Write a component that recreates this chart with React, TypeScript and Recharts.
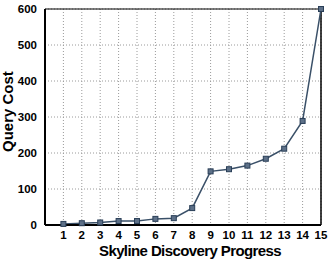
import { LineChart, Line, XAxis, YAxis, CartesianGrid, ReferenceLine } from "recharts";

// skyline discovery step vs query cost
const steps = [1, 2, 3, 4, 5, 6, 7, 8, 9, 10, 11, 12, 13, 14, 15];
const queryCost = [3, 5, 7, 11, 11, 17, 19, 47, 149, 155, 165, 184, 212, 289, 600];
const yTicks = [0, 100, 200, 300, 400, 500, 600];

const data = steps.map((s, i) => ({ step: s, cost: queryCost[i] }));

const FONT = "'Liberation Sans', Arial, sans-serif";

const SquareDot = (props: any) => {
  const { cx, cy } = props;
  if (cx == null || cy == null) return null;
  return <rect x={cx - 2.5} y={cy - 2.5} width={5} height={5} fill="#5d7088" stroke="#2a3f58" strokeWidth={1} />;
};

export default function App() {
  return (
    <div style={{ position: "absolute", left: 0, top: 0, width: 328, height: 259, background: "#fff" }}>
      <LineChart width={328} height={259} data={data} margin={{ top: 9, right: 7, bottom: 0, left: 0 }}>
        <CartesianGrid stroke="#9a9a9a" strokeDasharray="1 2" vertical horizontal />
        <XAxis
          dataKey="step"
          type="number"
          domain={[0, 15]}
          ticks={steps}
          height={34}
          axisLine={{ stroke: "#000", strokeWidth: 2 }}
          tickLine={false}
          tick={{ fill: "#000", fontSize: 11.5, fontWeight: 700, fontFamily: FONT }}
          tickMargin={0}
          interval={0}
          label={{ value: "Skyline Discovery Progress", position: "insideBottom", offset: 3, dx: 7, fill: "#000", fontSize: 15, fontWeight: 700, fontFamily: FONT, letterSpacing: -0.6 }}
        />
        <YAxis
          type="number"
          domain={[0, 600]}
          ticks={yTicks}
          width={45}
          axisLine={{ stroke: "#000", strokeWidth: 2 }}
          tickLine={false}
          tick={{ fill: "#000", fontSize: 11.5, fontWeight: 700, fontFamily: FONT }}
          tickMargin={2}
          label={{ value: "Query Cost", angle: -90, position: "insideLeft", offset: 8, dy: 35, fill: "#000", fontSize: 15, fontWeight: 700, fontFamily: FONT }}
        />
        <ReferenceLine y={600} stroke="#000" strokeWidth={1} />
        <ReferenceLine x={15} stroke="#000" strokeWidth={1.5} />
        <Line
          type="linear"
          dataKey="cost"
          stroke="#3a5068"
          strokeWidth={1.5}
          dot={<SquareDot />}
          isAnimationActive={false}
        />
      </LineChart>
    </div>
  );
}
